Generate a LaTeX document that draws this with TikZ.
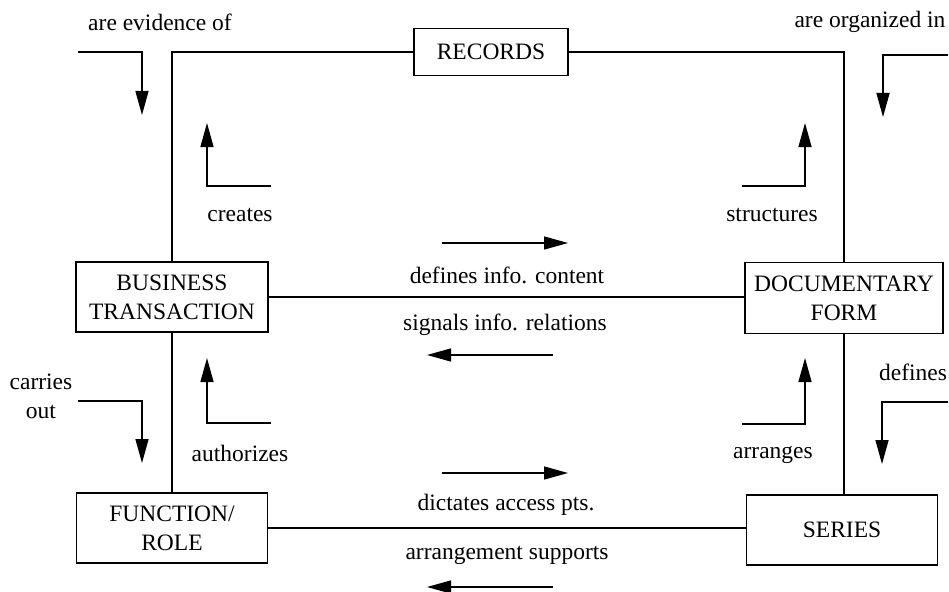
\documentclass[tikz,border=0pt]{standalone}
\usepackage{fontspec}
\setmainfont{Liberation Serif}
\usepackage{tikz}
\usetikzlibrary{arrows.meta}

\begin{document}
\begin{tikzpicture}[
	x=1pt, y=-1pt,
	font=\fontsize{23.5}{29}\selectfont,
	% Node styles
	entity/.style={
		rectangle, draw=black, line width=1.6pt,
		align=center, inner sep=2pt
	},
	lbl/.style={align=center, inner sep=0pt},
	link/.style={line width=1.4pt},
	arr/.style={-{Triangle[length=24pt,width=13pt]}, line width=1.4pt}
	]
	\useasboundingbox (0,0) rectangle (949,591);
	
	%% --- ENTITIES -----------------------------------------------------------
	\node[entity, minimum width=154pt, minimum height=47pt] (rec) at (491,52) {RECORDS};
	\node[entity, minimum width=192pt, minimum height=70pt] (bt) at (172,297) {BUSINESS\\TRANSACTION};
	\node[entity, minimum width=198pt, minimum height=71pt] (df) at (844,298) {DOCUMENTARY\\FORM};
	\node[entity, minimum width=191pt, minimum height=70pt] (fr) at (172,528) {FUNCTION/\\ROLE};
	\node[entity, minimum width=191pt, minimum height=70pt] (ser) at (842,530) {SERIES};
	
	\draw[link] (bt.north) |- (rec.west);
	\draw[link] (rec.east) -| (df.north);
	\draw[link] (bt.east) -- (bt.east -| df.west);
	\draw[link] (bt) -- (fr);
	\draw[link] (df.south) -- (df.south |- ser.north);
	\draw[link] (fr.east) -- (fr.east -| ser.west);
	
	%% --- LABELS -------------------------------------------------------------
	\node[lbl] (evid) at (160,22) {are evidence of};
	\node[lbl] (orgin) at (870,22) {are organized in};
	\node[lbl] (creates) at (240,215) {creates};
	\node[lbl] (struct) at (772,215) {structures};
	\node[lbl] (content) at (507,275) {defines info. content};
	\node[lbl] (signals) at (505,325) {signals info. relations};
	\node[lbl] (carries) at (41,396) {carries\\out};
	\node[lbl] (defines) at (913,372) {defines};
	\node[lbl] (auth) at (240,453) {authorizes};
	\node[lbl] (arranges) at (773,455) {arranges};
	\node[lbl] (dictates) at (506,505) {dictates access pts.};
	\node[lbl] (supports) at (507,555) {arrangement supports};
	
	%% --- ELBOW ARROWS -------------------------------------------------------
	\coordinate (evA) at (78,52);   \coordinate (evB) at (142,115);
	\coordinate (crA) at (271,186); \coordinate (crB) at (207,123);
	\coordinate (stA) at (742,186); \coordinate (stB) at (805,123);
	\coordinate (orA) at (948,55);  \coordinate (orB) at (883,117);
	\coordinate (caA) at (78,401);  \coordinate (caB) at (142,463);
	\coordinate (auA) at (271,423); \coordinate (auB) at (207,358);
	\coordinate (arA) at (742,424); \coordinate (arB) at (805,358);
	\coordinate (deA) at (948,402); \coordinate (deB) at (882,464);
	
	\draw[arr] (evA) -| (evB); \draw[arr] (crA) -| (crB);
	\draw[arr] (stA) -| (stB); \draw[arr] (orA) -| (orB);
	\draw[arr] (caA) -| (caB); \draw[arr] (auA) -| (auB);
	\draw[arr] (arA) -| (arB); \draw[arr] (deA) -| (deB);
	
	%% --- STRAIGHT ARROWS ----------------------------------------------------
	\coordinate (coA) at (442,243); \coordinate (coB) at (568,243);
	\coordinate (siA) at (553,355); \coordinate (siB) at (427,355);
	\coordinate (diA) at (442,473); \coordinate (diB) at (568,473);
	\coordinate (suA) at (553,587); \coordinate (suB) at (427,587);
	
	\draw[arr] (coA) -- (coB); \draw[arr] (siA) -- (siB);
	\draw[arr] (diA) -- (diB); \draw[arr] (suA) -- (suB);
	
\end{tikzpicture}
\end{document}
